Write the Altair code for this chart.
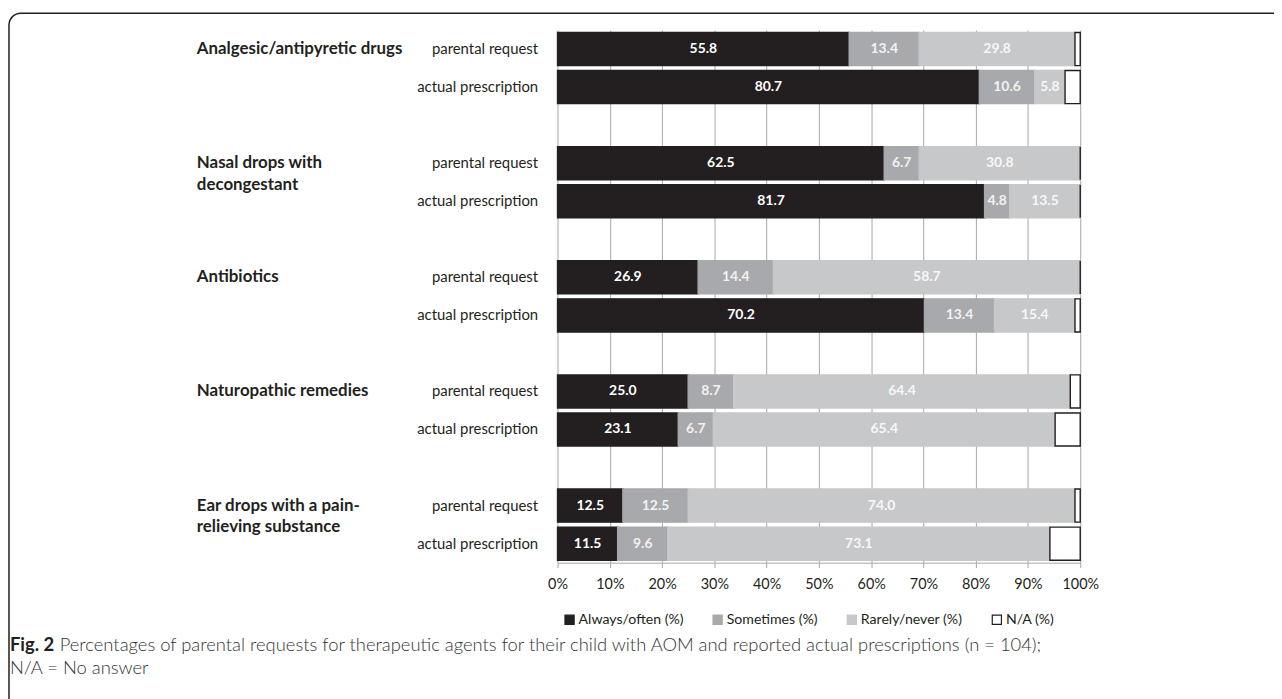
import altair as alt
import pandas as pd

# ---------------- data ----------------
group_line1 = ["Analgesic/antipyretic drugs", "Nasal drops with", "Antibiotics",
               "Naturopathic remedies", "Ear drops with a pain-"]
group_line2 = ["", "decongestant", "", "", "relieving  substance"]
row_names = ["parental request", "actual prescription"]
categories = ["Always/often (%)", "Sometimes (%)", "Rarely/never (%)", "N/A (%)"]

# order: [g1 request, g1 prescription, g2 request, ...]
always = [55.8, 80.7, 62.5, 81.7, 26.9, 70.2, 25.0, 23.1, 12.5, 11.5]
sometimes = [13.4, 10.6, 6.7, 4.8, 14.4, 13.4, 8.7, 6.7, 12.5, 9.6]
rarely = [29.8, 5.8, 30.8, 13.5, 58.7, 15.4, 64.4, 65.4, 74.0, 73.1]
no_answer = [1.0, 2.9, 0.0, 0.0, 0.0, 1.0, 1.9, 4.8, 1.0, 5.8]

x_ticks = [0, 10, 20, 30, 40, 50, 60, 70, 80, 90, 100]

caption_bold = "Fig. 2"
caption_rest = ("Percentages of parental requests for therapeutic agents for their child "
                "with AOM and reported actual prescriptions (n = 104);")
caption_line2 = "N/A = No answer"

fill_colors = ["#231f20", "#a7a9ac", "#c7c8ca", "#ffffff"]
stroke_colors = ["#231f20", "#a7a9ac", "#c7c8ca", "#231f20"]

# ---------------- tables ----------------
series = [always, sometimes, rarely, no_answer]
records = []
for i in range(len(always)):
    g, r = divmod(i, 2)
    key = f"{g}{'ab'[r]}"
    for c, cat in enumerate(categories):
        records.append({"row": key, "cat": cat, "order": c, "value": series[c][i]})
df = pd.DataFrame(records)

domain = []
for g in range(len(group_line1)):
    domain += [f"{g}a", f"{g}b"]
    if g < len(group_line1) - 1:
        domain.append(f"{g}s")

groups_df = pd.DataFrame({
    "row": [f"{g}a" for g in range(len(group_line1))],
    "l1": group_line1,
    "l2": group_line2,
})

FONT = "Lato"
DARK = "#231f20"

yscale = alt.Scale(domain=domain, paddingInner=0.13, paddingOuter=0.065)
xscale = alt.Scale(domain=[0, 100], nice=False)

legend = alt.Legend(orient="none", legendX=5, legendY=586, direction="horizontal",
                    title=None, symbolType="square", symbolSize=85,
                    symbolStrokeWidth=1.2, labelFont=FONT, labelFontSize=14.2,
                    labelColor=DARK, columnPadding=27, labelOffset=2)

base = alt.Chart(df).transform_stack(
    stack="value", groupby=["row"], as_=["x0", "x1"],
    sort=[alt.SortField("order", order="ascending")]
).transform_calculate(mid="(datum.x0 + datum.x1) / 2")

bars = base.mark_bar(strokeWidth=1.4).encode(
    y=alt.Y("row:N", scale=yscale,
            axis=alt.Axis(title=None, ticks=False, domain=False, grid=False,
                          labelFont=FONT, labelFontSize=15, labelColor=DARK,
                          labelPadding=20,
                          labelExpr="indexof(datum.value, 'a') >= 0 ? 'parental request' : "
                                    "(indexof(datum.value, 'b') >= 0 ? 'actual prescription' : '')")),
    x=alt.X("x0:Q", scale=xscale,
            axis=alt.Axis(title=None, values=x_ticks, grid=True, gridColor="#a6a6a6",
                          gridWidth=1, domainColor="#a6a6a6", tickColor="#a6a6a6",
                          tickSize=5, labelFont=FONT, labelFontSize=14.5, labelColor=DARK,
                          labelPadding=10, labelFlush=False,
                          labelExpr="datum.value + '%'")),
    x2="x1:Q",
    fill=alt.Fill("cat:N", scale=alt.Scale(domain=categories, range=fill_colors),
                  sort=categories, legend=legend),
    stroke=alt.Stroke("cat:N", scale=alt.Scale(domain=categories, range=stroke_colors),
                      sort=categories, legend=legend),
)

labels = base.transform_filter(
    "datum.cat != 'N/A (%)' && datum.value > 0"
).mark_text(font=FONT, fontSize=14, fontWeight="bold", baseline="middle",
            align="center").encode(
    y=alt.Y("row:N", scale=yscale),
    x=alt.X("mid:Q", scale=xscale),
    text=alt.Text("value:Q", format=".1f"),
    color=alt.Color("cat:N", scale=alt.Scale(domain=categories,
                                             range=["#ffffff", "#f2f2f2", "#f7f7f7", "#ffffff"]),
                    legend=None),
)

glab1 = alt.Chart(groups_df).mark_text(
    font=FONT, fontSize=17, fontWeight="bold", color=DARK, align="left", baseline="middle"
).encode(y=alt.Y("row:N", scale=yscale), x=alt.value(-363), text="l1:N")

glab2 = alt.Chart(groups_df).mark_text(
    font=FONT, fontSize=17, fontWeight="bold", color=DARK, align="left", baseline="middle", dy=22
).encode(y=alt.Y("row:N", scale=yscale), x=alt.value(-363), text="l2:N")

cap_df = pd.DataFrame({"a": [0]})
cap1 = alt.Chart(cap_df).mark_text(
    font=FONT, fontSize=18.5, fontWeight="bold", color=DARK, align="left", baseline="middle"
).encode(x=alt.value(-551), y=alt.value(619), text=alt.value(caption_bold))
cap2 = alt.Chart(cap_df).mark_text(
    font=FONT, fontSize=18.5, fontWeight=300, color="#333333", align="left", baseline="middle"
).encode(x=alt.value(-501), y=alt.value(619), text=alt.value(caption_rest))
cap3 = alt.Chart(cap_df).mark_text(
    font=FONT, fontSize=18.5, fontWeight=300, color="#333333", align="left", baseline="middle"
).encode(x=alt.value(-551), y=alt.value(642), text=alt.value(caption_line2))

frame = alt.Chart(cap_df).mark_rect(
    fill="transparent", stroke=DARK, strokeWidth=1.5, cornerRadius=12
).encode(x=alt.value(-552), x2=alt.value(760), y=alt.value(-17), y2=alt.value(720))

chart = alt.layer(frame, bars, labels, glab1, glab2, cap1, cap2, cap3).properties(
    width=526, height=536,
    autosize=alt.AutoSizeParams(type="none"),
    padding={"left": 553, "top": 20, "right": 195, "bottom": 135},
).configure_view(stroke="transparent").resolve_scale(y="shared", x="shared")

chart.save("out.html", embed_options={"renderer": "svg", "actions": False})
